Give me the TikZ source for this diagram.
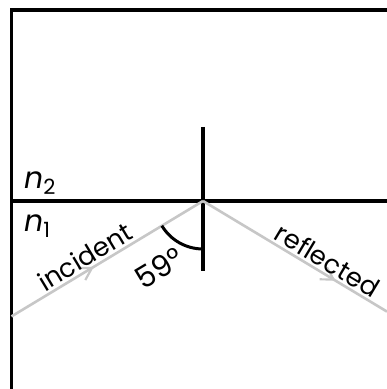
\documentclass[tikz,border=0pt]{standalone}
\usepackage{fontspec}
\setmainfont{Poppins}
\usetikzlibrary{arrows.meta, decorations.markings, calc}

\newcommand{\idxlbl}[2]{\textit{#1}\raisebox{-0.35ex}{\fontsize{21}{21}\selectfont #2}}

\begin{document}
\begin{tikzpicture}[
    x=1pt, y=1pt,
    every node/.style={font=\fontsize{30}{34}\selectfont, inner sep=2pt},
    raylbl/.style={font=\fontsize{26}{30}\selectfont, sloped, above=0pt},
    wall/.style={draw=black, line width=3.4pt},
    ray/.style={draw=black!22, line width=2.6pt},
    raymark/.style={postaction={decorate, decoration={markings,
        mark=at position #1 with {\arrow{Straight Barb[length=12pt, width=14pt, line width=2.2pt]}}}}},
    anglearc/.style={draw=black, line width=3pt},
]
\useasboundingbox (0,0) rectangle (387,389);

% frame and interface
\coordinate (FB) at (11.5,0);
\coordinate (FC) at (11.5,379);
\coordinate (FR) at (387,379);
\draw[wall, line join=miter] (FB) -- (FC) -- (FR);

\coordinate (O) at (203,188);
\coordinate (IL) at (11.5,188);
\coordinate (IR) at (387,188);
\draw[wall] (IL) -- (IR);

% normal
\coordinate (NT) at (203,262);
\coordinate (NB) at (203,118);
\draw[wall] (NT) -- (NB);

% media
\node[anchor=base west, inner sep=0pt] (n2) at (24,200) {\idxlbl{n}{2}};
\node[anchor=base west, inner sep=0pt] (n1) at (24,157) {\idxlbl{n}{1}};

% rays
\coordinate (S) at (11.5,72.6);
\coordinate (R) at (387,77.4);
\draw[ray, raymark=0.43] (S) -- node[raylbl, pos=0.42] (inc) {incident} (O);
\draw[ray, raymark=0.72] (O) -- node[raylbl, pos=0.64] (refl) {reflected} (R);

% angle
\draw[anglearc] ($(O)+(211:48)$) arc (211:270:48);
\node[rotate=31] (ang) at (159,121) {59°};

\end{tikzpicture}
\end{document}
